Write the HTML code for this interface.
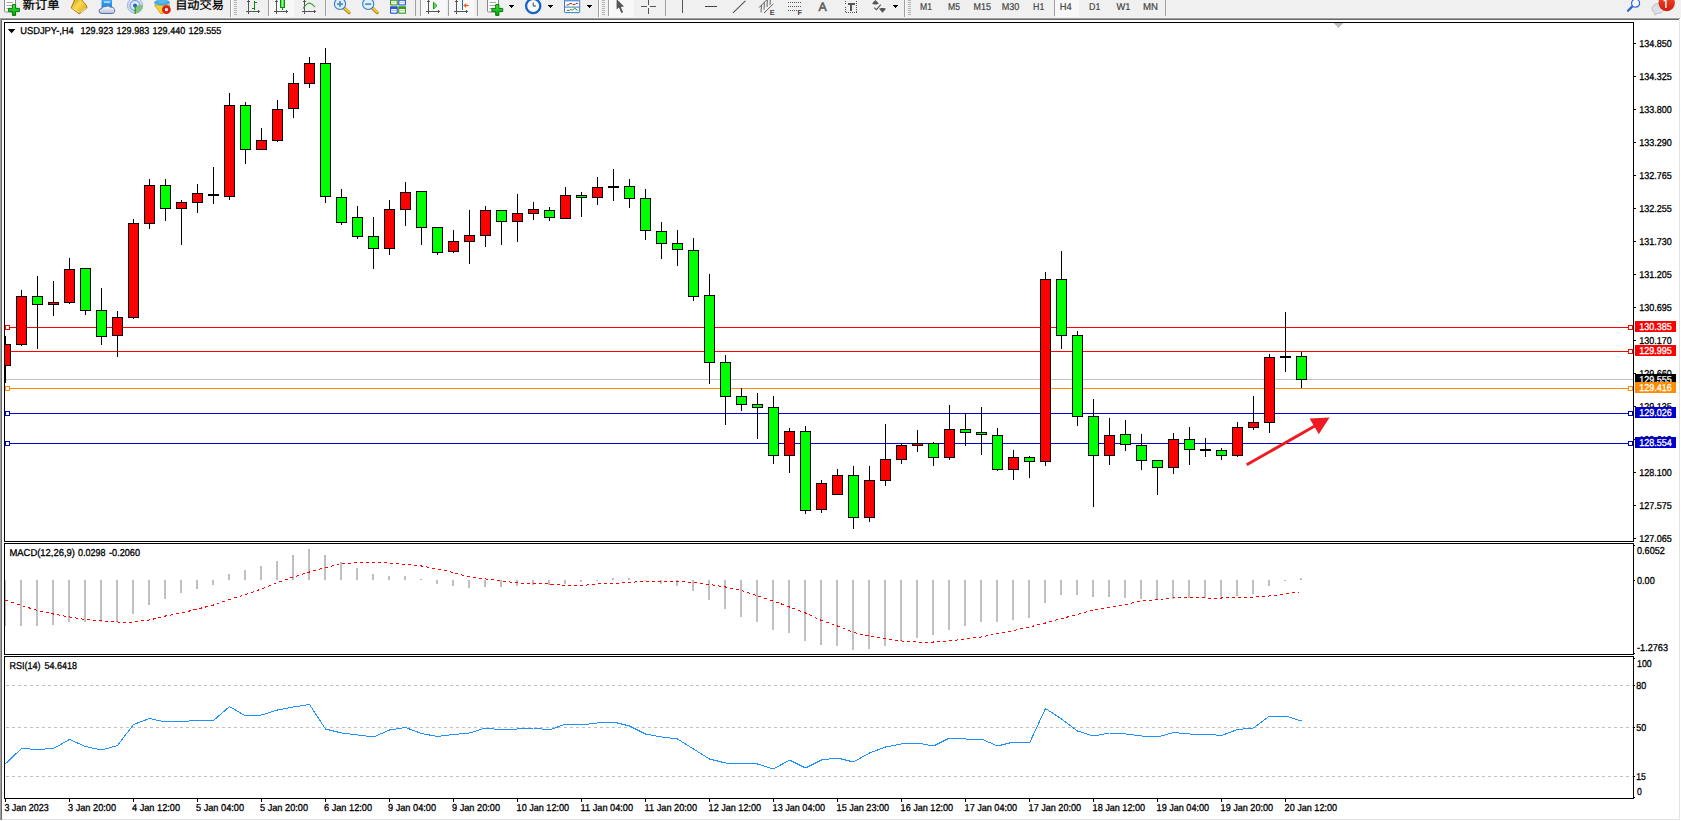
<!DOCTYPE html>
<html lang="zh-CN"><head><meta charset="utf-8"><title>USDJPY-,H4</title>
<style>
html,body{margin:0;padding:0;background:#fff;}
body{width:1681px;height:821px;overflow:hidden;position:relative;}
svg{position:absolute;left:0;top:0;display:block;font-family:"Liberation Sans","Noto Sans CJK SC",sans-serif;}
text{white-space:pre;}
text{text-rendering:geometricPrecision;}
text.c{font-size:10px;fill:#000;stroke:#000;stroke-width:0.3px;}
text.w{fill:#fff;stroke:#fff;}
</style></head>
<body>
<svg width="1681" height="821" viewBox="0 0 1681 821" shape-rendering="crispEdges">
<defs><clipPath id="cm"><rect x="5" y="23" width="1628" height="518"/></clipPath>
<clipPath id="cp"><rect x="1634" y="20" width="45" height="522"/></clipPath></defs>
<rect x="0" y="0" width="1681" height="821" fill="#fff"/>
<rect x="0" y="0" width="1681" height="17" fill="#f0f0f0"/>
<rect x="0" y="17" width="1681" height="1" fill="#f3f3f3"/>
<rect x="0" y="18" width="1680" height="1" fill="#a0a0a0"/>
<rect x="1" y="19" width="1678" height="1" fill="#696969"/>
<rect x="0" y="18" width="1" height="802" fill="#a0a0a0"/>
<rect x="1" y="19" width="1" height="801" fill="#696969"/>
<rect x="1679" y="20" width="1" height="800" fill="#e3e3e3"/>
<rect x="2" y="819" width="1678" height="1" fill="#e3e3e3"/>
<rect x="5" y="379" width="1628" height="1" fill="#c0c0c0"/>
<rect x="5" y="327" width="1628" height="1" fill="#ff0000"/>
<rect x="5" y="325" width="5" height="5" fill="#ff0000"/>
<rect x="6" y="326" width="3" height="3" fill="#fff"/>
<rect x="1628" y="325" width="5" height="5" fill="#ff0000"/>
<rect x="1629" y="326" width="3" height="3" fill="#fff"/>
<rect x="5" y="351" width="1628" height="1" fill="#ff0000"/>
<rect x="5" y="349" width="5" height="5" fill="#ff0000"/>
<rect x="6" y="350" width="3" height="3" fill="#fff"/>
<rect x="1628" y="349" width="5" height="5" fill="#ff0000"/>
<rect x="1629" y="350" width="3" height="3" fill="#fff"/>
<rect x="5" y="388" width="1628" height="1" fill="#ff8c00"/>
<rect x="5" y="386" width="5" height="5" fill="#ff8c00"/>
<rect x="6" y="387" width="3" height="3" fill="#fff"/>
<rect x="1628" y="386" width="5" height="5" fill="#ff8c00"/>
<rect x="1629" y="387" width="3" height="3" fill="#fff"/>
<rect x="5" y="413" width="1628" height="1" fill="#0000cd"/>
<rect x="5" y="411" width="5" height="5" fill="#0000cd"/>
<rect x="6" y="412" width="3" height="3" fill="#fff"/>
<rect x="1628" y="411" width="5" height="5" fill="#0000cd"/>
<rect x="1629" y="412" width="3" height="3" fill="#fff"/>
<rect x="5" y="443" width="1628" height="1" fill="#0000cd"/>
<rect x="5" y="441" width="5" height="5" fill="#0000cd"/>
<rect x="6" y="442" width="3" height="3" fill="#fff"/>
<rect x="1628" y="441" width="5" height="5" fill="#0000cd"/>
<rect x="1629" y="442" width="3" height="3" fill="#fff"/>
<g clip-path="url(#cm)">
<rect x="5" y="336" width="1" height="47" fill="#000"/>
<rect x="0" y="344" width="11" height="22" fill="#000"/>
<rect x="1" y="345" width="9" height="20" fill="#ff0000"/>
<rect x="21" y="290" width="1" height="56" fill="#000"/>
<rect x="16" y="296" width="11" height="49" fill="#000"/>
<rect x="17" y="297" width="9" height="47" fill="#ff0000"/>
<rect x="37" y="276" width="1" height="73" fill="#000"/>
<rect x="32" y="296" width="11" height="9" fill="#000"/>
<rect x="33" y="297" width="9" height="7" fill="#00ff00"/>
<rect x="53" y="281" width="1" height="35" fill="#000"/>
<rect x="48" y="302" width="11" height="3" fill="#000"/>
<rect x="49" y="303" width="9" height="1" fill="#ff0000"/>
<rect x="69" y="258" width="1" height="46" fill="#000"/>
<rect x="64" y="269" width="11" height="34" fill="#000"/>
<rect x="65" y="270" width="9" height="32" fill="#ff0000"/>
<rect x="85" y="268" width="1" height="47" fill="#000"/>
<rect x="80" y="268" width="11" height="43" fill="#000"/>
<rect x="81" y="269" width="9" height="41" fill="#00ff00"/>
<rect x="101" y="288" width="1" height="57" fill="#000"/>
<rect x="96" y="310" width="11" height="27" fill="#000"/>
<rect x="97" y="311" width="9" height="25" fill="#00ff00"/>
<rect x="117" y="311" width="1" height="46" fill="#000"/>
<rect x="112" y="317" width="11" height="19" fill="#000"/>
<rect x="113" y="318" width="9" height="17" fill="#ff0000"/>
<rect x="133" y="219" width="1" height="100" fill="#000"/>
<rect x="128" y="223" width="11" height="95" fill="#000"/>
<rect x="129" y="224" width="9" height="93" fill="#ff0000"/>
<rect x="149" y="179" width="1" height="50" fill="#000"/>
<rect x="144" y="185" width="11" height="39" fill="#000"/>
<rect x="145" y="186" width="9" height="37" fill="#ff0000"/>
<rect x="165" y="179" width="1" height="42" fill="#000"/>
<rect x="160" y="185" width="11" height="24" fill="#000"/>
<rect x="161" y="186" width="9" height="22" fill="#00ff00"/>
<rect x="181" y="200" width="1" height="45" fill="#000"/>
<rect x="176" y="202" width="11" height="7" fill="#000"/>
<rect x="177" y="203" width="9" height="5" fill="#ff0000"/>
<rect x="197" y="184" width="1" height="29" fill="#000"/>
<rect x="192" y="193" width="11" height="10" fill="#000"/>
<rect x="193" y="194" width="9" height="8" fill="#ff0000"/>
<rect x="213" y="167" width="1" height="37" fill="#000"/>
<rect x="208" y="194" width="11" height="2" fill="#000"/>
<rect x="229" y="93" width="1" height="107" fill="#000"/>
<rect x="224" y="105" width="11" height="92" fill="#000"/>
<rect x="225" y="106" width="9" height="90" fill="#ff0000"/>
<rect x="245" y="102" width="1" height="62" fill="#000"/>
<rect x="240" y="105" width="11" height="45" fill="#000"/>
<rect x="241" y="106" width="9" height="43" fill="#00ff00"/>
<rect x="261" y="128" width="1" height="22" fill="#000"/>
<rect x="256" y="140" width="11" height="10" fill="#000"/>
<rect x="257" y="141" width="9" height="8" fill="#ff0000"/>
<rect x="277" y="100" width="1" height="42" fill="#000"/>
<rect x="272" y="109" width="11" height="32" fill="#000"/>
<rect x="273" y="110" width="9" height="30" fill="#ff0000"/>
<rect x="293" y="73" width="1" height="45" fill="#000"/>
<rect x="288" y="83" width="11" height="26" fill="#000"/>
<rect x="289" y="84" width="9" height="24" fill="#ff0000"/>
<rect x="309" y="57" width="1" height="31" fill="#000"/>
<rect x="304" y="63" width="11" height="21" fill="#000"/>
<rect x="305" y="64" width="9" height="19" fill="#ff0000"/>
<rect x="325" y="48" width="1" height="155" fill="#000"/>
<rect x="320" y="63" width="11" height="134" fill="#000"/>
<rect x="321" y="64" width="9" height="132" fill="#00ff00"/>
<rect x="341" y="189" width="1" height="36" fill="#000"/>
<rect x="336" y="197" width="11" height="26" fill="#000"/>
<rect x="337" y="198" width="9" height="24" fill="#00ff00"/>
<rect x="357" y="206" width="1" height="33" fill="#000"/>
<rect x="352" y="217" width="11" height="20" fill="#000"/>
<rect x="353" y="218" width="9" height="18" fill="#00ff00"/>
<rect x="373" y="217" width="1" height="52" fill="#000"/>
<rect x="368" y="236" width="11" height="13" fill="#000"/>
<rect x="369" y="237" width="9" height="11" fill="#00ff00"/>
<rect x="389" y="200" width="1" height="55" fill="#000"/>
<rect x="384" y="209" width="11" height="40" fill="#000"/>
<rect x="385" y="210" width="9" height="38" fill="#ff0000"/>
<rect x="405" y="182" width="1" height="44" fill="#000"/>
<rect x="400" y="192" width="11" height="18" fill="#000"/>
<rect x="401" y="193" width="9" height="16" fill="#ff0000"/>
<rect x="421" y="191" width="1" height="54" fill="#000"/>
<rect x="416" y="191" width="11" height="37" fill="#000"/>
<rect x="417" y="192" width="9" height="35" fill="#00ff00"/>
<rect x="437" y="227" width="1" height="28" fill="#000"/>
<rect x="432" y="227" width="11" height="26" fill="#000"/>
<rect x="433" y="228" width="9" height="24" fill="#00ff00"/>
<rect x="453" y="230" width="1" height="23" fill="#000"/>
<rect x="448" y="241" width="11" height="11" fill="#000"/>
<rect x="449" y="242" width="9" height="9" fill="#ff0000"/>
<rect x="469" y="210" width="1" height="54" fill="#000"/>
<rect x="464" y="235" width="11" height="7" fill="#000"/>
<rect x="465" y="236" width="9" height="5" fill="#ff0000"/>
<rect x="485" y="206" width="1" height="41" fill="#000"/>
<rect x="480" y="210" width="11" height="26" fill="#000"/>
<rect x="481" y="211" width="9" height="24" fill="#ff0000"/>
<rect x="501" y="210" width="1" height="35" fill="#000"/>
<rect x="496" y="210" width="11" height="12" fill="#000"/>
<rect x="497" y="211" width="9" height="10" fill="#00ff00"/>
<rect x="517" y="194" width="1" height="48" fill="#000"/>
<rect x="512" y="213" width="11" height="9" fill="#000"/>
<rect x="513" y="214" width="9" height="7" fill="#ff0000"/>
<rect x="533" y="202" width="1" height="18" fill="#000"/>
<rect x="528" y="209" width="11" height="5" fill="#000"/>
<rect x="529" y="210" width="9" height="3" fill="#ff0000"/>
<rect x="549" y="207" width="1" height="14" fill="#000"/>
<rect x="544" y="210" width="11" height="8" fill="#000"/>
<rect x="545" y="211" width="9" height="6" fill="#00ff00"/>
<rect x="565" y="187" width="1" height="32" fill="#000"/>
<rect x="560" y="195" width="11" height="24" fill="#000"/>
<rect x="561" y="196" width="9" height="22" fill="#ff0000"/>
<rect x="581" y="192" width="1" height="25" fill="#000"/>
<rect x="576" y="195" width="11" height="3" fill="#000"/>
<rect x="577" y="196" width="9" height="1" fill="#00ff00"/>
<rect x="597" y="177" width="1" height="28" fill="#000"/>
<rect x="592" y="187" width="11" height="11" fill="#000"/>
<rect x="593" y="188" width="9" height="9" fill="#ff0000"/>
<rect x="613" y="169" width="1" height="32" fill="#000"/>
<rect x="608" y="186" width="11" height="2" fill="#000"/>
<rect x="629" y="179" width="1" height="29" fill="#000"/>
<rect x="624" y="186" width="11" height="13" fill="#000"/>
<rect x="625" y="187" width="9" height="11" fill="#00ff00"/>
<rect x="645" y="189" width="1" height="51" fill="#000"/>
<rect x="640" y="198" width="11" height="33" fill="#000"/>
<rect x="641" y="199" width="9" height="31" fill="#00ff00"/>
<rect x="661" y="222" width="1" height="37" fill="#000"/>
<rect x="656" y="231" width="11" height="13" fill="#000"/>
<rect x="657" y="232" width="9" height="11" fill="#00ff00"/>
<rect x="677" y="230" width="1" height="36" fill="#000"/>
<rect x="672" y="243" width="11" height="7" fill="#000"/>
<rect x="673" y="244" width="9" height="5" fill="#00ff00"/>
<rect x="693" y="238" width="1" height="63" fill="#000"/>
<rect x="688" y="250" width="11" height="47" fill="#000"/>
<rect x="689" y="251" width="9" height="45" fill="#00ff00"/>
<rect x="709" y="274" width="1" height="110" fill="#000"/>
<rect x="704" y="295" width="11" height="68" fill="#000"/>
<rect x="705" y="296" width="9" height="66" fill="#00ff00"/>
<rect x="725" y="355" width="1" height="70" fill="#000"/>
<rect x="720" y="362" width="11" height="35" fill="#000"/>
<rect x="721" y="363" width="9" height="33" fill="#00ff00"/>
<rect x="741" y="388" width="1" height="23" fill="#000"/>
<rect x="736" y="396" width="11" height="9" fill="#000"/>
<rect x="737" y="397" width="9" height="7" fill="#00ff00"/>
<rect x="757" y="393" width="1" height="46" fill="#000"/>
<rect x="752" y="404" width="11" height="4" fill="#000"/>
<rect x="753" y="405" width="9" height="2" fill="#00ff00"/>
<rect x="773" y="396" width="1" height="68" fill="#000"/>
<rect x="768" y="407" width="11" height="49" fill="#000"/>
<rect x="769" y="408" width="9" height="47" fill="#00ff00"/>
<rect x="789" y="428" width="1" height="45" fill="#000"/>
<rect x="784" y="431" width="11" height="25" fill="#000"/>
<rect x="785" y="432" width="9" height="23" fill="#ff0000"/>
<rect x="805" y="426" width="1" height="88" fill="#000"/>
<rect x="800" y="431" width="11" height="80" fill="#000"/>
<rect x="801" y="432" width="9" height="78" fill="#00ff00"/>
<rect x="821" y="480" width="1" height="33" fill="#000"/>
<rect x="816" y="483" width="11" height="27" fill="#000"/>
<rect x="817" y="484" width="9" height="25" fill="#ff0000"/>
<rect x="837" y="469" width="1" height="26" fill="#000"/>
<rect x="832" y="475" width="11" height="20" fill="#000"/>
<rect x="833" y="476" width="9" height="18" fill="#ff0000"/>
<rect x="853" y="466" width="1" height="63" fill="#000"/>
<rect x="848" y="475" width="11" height="43" fill="#000"/>
<rect x="849" y="476" width="9" height="41" fill="#00ff00"/>
<rect x="869" y="466" width="1" height="56" fill="#000"/>
<rect x="864" y="480" width="11" height="38" fill="#000"/>
<rect x="865" y="481" width="9" height="36" fill="#ff0000"/>
<rect x="885" y="424" width="1" height="62" fill="#000"/>
<rect x="880" y="459" width="11" height="22" fill="#000"/>
<rect x="881" y="460" width="9" height="20" fill="#ff0000"/>
<rect x="901" y="443" width="1" height="21" fill="#000"/>
<rect x="896" y="445" width="11" height="15" fill="#000"/>
<rect x="897" y="446" width="9" height="13" fill="#ff0000"/>
<rect x="917" y="430" width="1" height="22" fill="#000"/>
<rect x="912" y="443" width="11" height="3" fill="#000"/>
<rect x="913" y="444" width="9" height="1" fill="#ff0000"/>
<rect x="933" y="442" width="1" height="24" fill="#000"/>
<rect x="928" y="443" width="11" height="15" fill="#000"/>
<rect x="929" y="444" width="9" height="13" fill="#00ff00"/>
<rect x="949" y="405" width="1" height="55" fill="#000"/>
<rect x="944" y="429" width="11" height="29" fill="#000"/>
<rect x="945" y="430" width="9" height="27" fill="#ff0000"/>
<rect x="965" y="413" width="1" height="33" fill="#000"/>
<rect x="960" y="429" width="11" height="4" fill="#000"/>
<rect x="961" y="430" width="9" height="2" fill="#00ff00"/>
<rect x="981" y="407" width="1" height="48" fill="#000"/>
<rect x="976" y="432" width="11" height="3" fill="#000"/>
<rect x="977" y="433" width="9" height="1" fill="#00ff00"/>
<rect x="997" y="428" width="1" height="43" fill="#000"/>
<rect x="992" y="435" width="11" height="35" fill="#000"/>
<rect x="993" y="436" width="9" height="33" fill="#00ff00"/>
<rect x="1013" y="450" width="1" height="30" fill="#000"/>
<rect x="1008" y="457" width="11" height="13" fill="#000"/>
<rect x="1009" y="458" width="9" height="11" fill="#ff0000"/>
<rect x="1029" y="456" width="1" height="22" fill="#000"/>
<rect x="1024" y="457" width="11" height="5" fill="#000"/>
<rect x="1025" y="458" width="9" height="3" fill="#00ff00"/>
<rect x="1045" y="272" width="1" height="194" fill="#000"/>
<rect x="1040" y="279" width="11" height="183" fill="#000"/>
<rect x="1041" y="280" width="9" height="181" fill="#ff0000"/>
<rect x="1061" y="251" width="1" height="98" fill="#000"/>
<rect x="1056" y="279" width="11" height="57" fill="#000"/>
<rect x="1057" y="280" width="9" height="55" fill="#00ff00"/>
<rect x="1077" y="331" width="1" height="95" fill="#000"/>
<rect x="1072" y="335" width="11" height="82" fill="#000"/>
<rect x="1073" y="336" width="9" height="80" fill="#00ff00"/>
<rect x="1093" y="399" width="1" height="108" fill="#000"/>
<rect x="1088" y="416" width="11" height="40" fill="#000"/>
<rect x="1089" y="417" width="9" height="38" fill="#00ff00"/>
<rect x="1109" y="418" width="1" height="47" fill="#000"/>
<rect x="1104" y="435" width="11" height="21" fill="#000"/>
<rect x="1105" y="436" width="9" height="19" fill="#ff0000"/>
<rect x="1125" y="420" width="1" height="31" fill="#000"/>
<rect x="1120" y="434" width="11" height="11" fill="#000"/>
<rect x="1121" y="435" width="9" height="9" fill="#00ff00"/>
<rect x="1141" y="434" width="1" height="36" fill="#000"/>
<rect x="1136" y="445" width="11" height="16" fill="#000"/>
<rect x="1137" y="446" width="9" height="14" fill="#00ff00"/>
<rect x="1157" y="460" width="1" height="35" fill="#000"/>
<rect x="1152" y="460" width="11" height="8" fill="#000"/>
<rect x="1153" y="461" width="9" height="6" fill="#00ff00"/>
<rect x="1173" y="433" width="1" height="41" fill="#000"/>
<rect x="1168" y="439" width="11" height="29" fill="#000"/>
<rect x="1169" y="440" width="9" height="27" fill="#ff0000"/>
<rect x="1189" y="427" width="1" height="38" fill="#000"/>
<rect x="1184" y="439" width="11" height="11" fill="#000"/>
<rect x="1185" y="440" width="9" height="9" fill="#00ff00"/>
<rect x="1205" y="438" width="1" height="19" fill="#000"/>
<rect x="1200" y="449" width="11" height="2" fill="#000"/>
<rect x="1221" y="448" width="1" height="12" fill="#000"/>
<rect x="1216" y="450" width="11" height="6" fill="#000"/>
<rect x="1217" y="451" width="9" height="4" fill="#00ff00"/>
<rect x="1237" y="422" width="1" height="35" fill="#000"/>
<rect x="1232" y="427" width="11" height="29" fill="#000"/>
<rect x="1233" y="428" width="9" height="27" fill="#ff0000"/>
<rect x="1253" y="396" width="1" height="34" fill="#000"/>
<rect x="1248" y="422" width="11" height="6" fill="#000"/>
<rect x="1249" y="423" width="9" height="4" fill="#ff0000"/>
<rect x="1269" y="354" width="1" height="79" fill="#000"/>
<rect x="1264" y="357" width="11" height="66" fill="#000"/>
<rect x="1265" y="358" width="9" height="64" fill="#ff0000"/>
<rect x="1285" y="312" width="1" height="60" fill="#000"/>
<rect x="1280" y="356" width="11" height="2" fill="#000"/>
<rect x="1301" y="352" width="1" height="36" fill="#000"/>
<rect x="1296" y="356" width="11" height="24" fill="#000"/>
<rect x="1297" y="357" width="9" height="22" fill="#00ff00"/>
</g>
<rect x="4" y="22" width="1630" height="1" fill="#000"/>
<rect x="4" y="541" width="1630" height="1" fill="#000"/>
<rect x="4" y="22" width="1" height="520" fill="#000"/>
<rect x="1633" y="22" width="1" height="520" fill="#000"/>
<rect x="1633" y="543" width="1" height="112" fill="#000"/>
<rect x="1633" y="656" width="1" height="143" fill="#000"/>
<rect x="1634" y="545" width="1" height="1" fill="#000"/>
<rect x="1634" y="580" width="1" height="1" fill="#000"/>
<rect x="1634" y="653" width="1" height="1" fill="#000"/>
<rect x="1634" y="658" width="1" height="1" fill="#000"/>
<rect x="1634" y="685" width="1" height="1" fill="#000"/>
<rect x="1634" y="727" width="1" height="1" fill="#000"/>
<rect x="1634" y="776" width="1" height="1" fill="#000"/>
<rect x="1634" y="797" width="1" height="1" fill="#000"/>
<rect x="1334" y="23" width="9" height="1" fill="#c0c0c0"/>
<rect x="1335" y="24" width="7" height="1" fill="#c0c0c0"/>
<rect x="1336" y="25" width="5" height="1" fill="#c0c0c0"/>
<rect x="1337" y="26" width="3" height="1" fill="#c0c0c0"/>
<rect x="1338" y="27" width="1" height="1" fill="#c0c0c0"/>
<rect x="4" y="543" width="1630" height="1" fill="#000"/>
<rect x="4" y="654" width="1630" height="1" fill="#000"/>
<rect x="4" y="543" width="1" height="112" fill="#000"/>
<rect x="4" y="656" width="1630" height="1" fill="#000"/>
<rect x="4" y="798" width="1630" height="1" fill="#000"/>
<rect x="4" y="656" width="1" height="143" fill="#000"/>
<rect x="1634" y="43" width="2" height="1" fill="#000"/>
<rect x="1634" y="76" width="2" height="1" fill="#000"/>
<rect x="1634" y="109" width="2" height="1" fill="#000"/>
<rect x="1634" y="142" width="2" height="1" fill="#000"/>
<rect x="1634" y="175" width="2" height="1" fill="#000"/>
<rect x="1634" y="208" width="2" height="1" fill="#000"/>
<rect x="1634" y="241" width="2" height="1" fill="#000"/>
<rect x="1634" y="274" width="2" height="1" fill="#000"/>
<rect x="1634" y="307" width="2" height="1" fill="#000"/>
<rect x="1634" y="340" width="2" height="1" fill="#000"/>
<rect x="1634" y="373" width="2" height="1" fill="#000"/>
<rect x="1634" y="406" width="2" height="1" fill="#000"/>
<rect x="1634" y="439" width="2" height="1" fill="#000"/>
<rect x="1634" y="472" width="2" height="1" fill="#000"/>
<rect x="1634" y="505" width="2" height="1" fill="#000"/>
<rect x="1634" y="538" width="2" height="1" fill="#000"/>
<rect x="5" y="580" width="1" height="46" fill="#c0c0c0"/>
<rect x="20" y="580" width="2" height="46" fill="#c0c0c0"/>
<rect x="36" y="580" width="2" height="46" fill="#c0c0c0"/>
<rect x="52" y="580" width="2" height="45" fill="#c0c0c0"/>
<rect x="68" y="580" width="2" height="42" fill="#c0c0c0"/>
<rect x="84" y="580" width="2" height="42" fill="#c0c0c0"/>
<rect x="100" y="580" width="2" height="42" fill="#c0c0c0"/>
<rect x="116" y="580" width="2" height="42" fill="#c0c0c0"/>
<rect x="132" y="580" width="2" height="34" fill="#c0c0c0"/>
<rect x="148" y="580" width="2" height="25" fill="#c0c0c0"/>
<rect x="164" y="580" width="2" height="19" fill="#c0c0c0"/>
<rect x="180" y="580" width="2" height="13" fill="#c0c0c0"/>
<rect x="196" y="580" width="2" height="9" fill="#c0c0c0"/>
<rect x="212" y="580" width="2" height="5" fill="#c0c0c0"/>
<rect x="228" y="574" width="2" height="6" fill="#c0c0c0"/>
<rect x="244" y="570" width="2" height="10" fill="#c0c0c0"/>
<rect x="260" y="566" width="2" height="14" fill="#c0c0c0"/>
<rect x="276" y="561" width="2" height="19" fill="#c0c0c0"/>
<rect x="292" y="555" width="2" height="25" fill="#c0c0c0"/>
<rect x="308" y="549" width="2" height="31" fill="#c0c0c0"/>
<rect x="324" y="555" width="2" height="25" fill="#c0c0c0"/>
<rect x="340" y="562" width="2" height="18" fill="#c0c0c0"/>
<rect x="356" y="568" width="2" height="12" fill="#c0c0c0"/>
<rect x="372" y="574" width="2" height="6" fill="#c0c0c0"/>
<rect x="388" y="576" width="2" height="4" fill="#c0c0c0"/>
<rect x="404" y="576" width="2" height="4" fill="#c0c0c0"/>
<rect x="420" y="579" width="2" height="1" fill="#c0c0c0"/>
<rect x="436" y="580" width="2" height="4" fill="#c0c0c0"/>
<rect x="452" y="580" width="2" height="6" fill="#c0c0c0"/>
<rect x="468" y="580" width="2" height="8" fill="#c0c0c0"/>
<rect x="484" y="580" width="2" height="7" fill="#c0c0c0"/>
<rect x="500" y="580" width="2" height="7" fill="#c0c0c0"/>
<rect x="516" y="580" width="2" height="6" fill="#c0c0c0"/>
<rect x="532" y="580" width="2" height="5" fill="#c0c0c0"/>
<rect x="548" y="580" width="2" height="5" fill="#c0c0c0"/>
<rect x="564" y="580" width="2" height="4" fill="#c0c0c0"/>
<rect x="580" y="580" width="2" height="2" fill="#c0c0c0"/>
<rect x="596" y="580" width="2" height="1" fill="#c0c0c0"/>
<rect x="612" y="578" width="2" height="2" fill="#c0c0c0"/>
<rect x="628" y="578" width="2" height="2" fill="#c0c0c0"/>
<rect x="644" y="580" width="2" height="1" fill="#c0c0c0"/>
<rect x="660" y="580" width="2" height="4" fill="#c0c0c0"/>
<rect x="676" y="580" width="2" height="6" fill="#c0c0c0"/>
<rect x="692" y="580" width="2" height="11" fill="#c0c0c0"/>
<rect x="708" y="580" width="2" height="20" fill="#c0c0c0"/>
<rect x="724" y="580" width="2" height="29" fill="#c0c0c0"/>
<rect x="740" y="580" width="2" height="37" fill="#c0c0c0"/>
<rect x="756" y="580" width="2" height="42" fill="#c0c0c0"/>
<rect x="772" y="580" width="2" height="50" fill="#c0c0c0"/>
<rect x="788" y="580" width="2" height="53" fill="#c0c0c0"/>
<rect x="804" y="580" width="2" height="61" fill="#c0c0c0"/>
<rect x="820" y="580" width="2" height="65" fill="#c0c0c0"/>
<rect x="836" y="580" width="2" height="66" fill="#c0c0c0"/>
<rect x="852" y="580" width="2" height="70" fill="#c0c0c0"/>
<rect x="868" y="580" width="2" height="69" fill="#c0c0c0"/>
<rect x="884" y="580" width="2" height="66" fill="#c0c0c0"/>
<rect x="900" y="580" width="2" height="61" fill="#c0c0c0"/>
<rect x="916" y="580" width="2" height="58" fill="#c0c0c0"/>
<rect x="932" y="580" width="2" height="55" fill="#c0c0c0"/>
<rect x="948" y="580" width="2" height="50" fill="#c0c0c0"/>
<rect x="964" y="580" width="2" height="46" fill="#c0c0c0"/>
<rect x="980" y="580" width="2" height="42" fill="#c0c0c0"/>
<rect x="996" y="580" width="2" height="42" fill="#c0c0c0"/>
<rect x="1012" y="580" width="2" height="40" fill="#c0c0c0"/>
<rect x="1028" y="580" width="2" height="38" fill="#c0c0c0"/>
<rect x="1044" y="580" width="2" height="23" fill="#c0c0c0"/>
<rect x="1060" y="580" width="2" height="15" fill="#c0c0c0"/>
<rect x="1076" y="580" width="2" height="15" fill="#c0c0c0"/>
<rect x="1092" y="580" width="2" height="17" fill="#c0c0c0"/>
<rect x="1108" y="580" width="2" height="17" fill="#c0c0c0"/>
<rect x="1124" y="580" width="2" height="18" fill="#c0c0c0"/>
<rect x="1140" y="580" width="2" height="19" fill="#c0c0c0"/>
<rect x="1156" y="580" width="2" height="20" fill="#c0c0c0"/>
<rect x="1172" y="580" width="2" height="19" fill="#c0c0c0"/>
<rect x="1188" y="580" width="2" height="18" fill="#c0c0c0"/>
<rect x="1204" y="580" width="2" height="18" fill="#c0c0c0"/>
<rect x="1220" y="580" width="2" height="17" fill="#c0c0c0"/>
<rect x="1236" y="580" width="2" height="16" fill="#c0c0c0"/>
<rect x="1252" y="580" width="2" height="14" fill="#c0c0c0"/>
<rect x="1268" y="580" width="2" height="6" fill="#c0c0c0"/>
<rect x="1284" y="580" width="2" height="1" fill="#c0c0c0"/>
<rect x="1300" y="578" width="2" height="2" fill="#c0c0c0"/>
<line x1="6" y1="685.5" x2="1633" y2="685.5" stroke="#c0c0c0" stroke-width="1" stroke-dasharray="3 3"/>
<line x1="6" y1="727.5" x2="1633" y2="727.5" stroke="#c0c0c0" stroke-width="1" stroke-dasharray="3 3"/>
<line x1="6" y1="776.5" x2="1633" y2="776.5" stroke="#c0c0c0" stroke-width="1" stroke-dasharray="3 3"/>
<rect x="5" y="799" width="1" height="3" fill="#000"/>
<rect x="69" y="799" width="1" height="3" fill="#000"/>
<rect x="133" y="799" width="1" height="3" fill="#000"/>
<rect x="197" y="799" width="1" height="3" fill="#000"/>
<rect x="261" y="799" width="1" height="3" fill="#000"/>
<rect x="325" y="799" width="1" height="3" fill="#000"/>
<rect x="389" y="799" width="1" height="3" fill="#000"/>
<rect x="453" y="799" width="1" height="3" fill="#000"/>
<rect x="517" y="799" width="1" height="3" fill="#000"/>
<rect x="581" y="799" width="1" height="3" fill="#000"/>
<rect x="645" y="799" width="1" height="3" fill="#000"/>
<rect x="709" y="799" width="1" height="3" fill="#000"/>
<rect x="773" y="799" width="1" height="3" fill="#000"/>
<rect x="837" y="799" width="1" height="3" fill="#000"/>
<rect x="901" y="799" width="1" height="3" fill="#000"/>
<rect x="965" y="799" width="1" height="3" fill="#000"/>
<rect x="1029" y="799" width="1" height="3" fill="#000"/>
<rect x="1093" y="799" width="1" height="3" fill="#000"/>
<rect x="1157" y="799" width="1" height="3" fill="#000"/>
<rect x="1221" y="799" width="1" height="3" fill="#000"/>
<rect x="1285" y="799" width="1" height="3" fill="#000"/>
<polyline points="5.5,600 21.5,605.5 37.5,610.5 53.5,614 69.5,617 85.5,619.5 101.5,621 117.5,622 133.5,622 149.5,620 165.5,616 181.5,613 197.5,609 213.5,605 229.5,599.5 245.5,594.5 261.5,589 277.5,582.5 293.5,577 309.5,572 325.5,567.5 341.5,564 357.5,562.5 373.5,562.5 389.5,563 405.5,564.5 421.5,566 437.5,569 453.5,572.5 469.5,577 485.5,579 501.5,581 517.5,583 533.5,583.5 549.5,584 565.5,585.5 581.5,585.5 597.5,584 613.5,583.5 629.5,582.5 645.5,581 661.5,581 677.5,581 693.5,582.5 709.5,584.5 725.5,587 741.5,590.5 757.5,596 773.5,601 789.5,607 805.5,613 821.5,620.5 837.5,626 853.5,632.5 869.5,636 885.5,639 901.5,641 917.5,642 933.5,642 949.5,641 965.5,639 981.5,637 997.5,633.5 1013.5,630.5 1029.5,627 1045.5,623 1061.5,618.5 1077.5,614.5 1093.5,610 1109.5,607.5 1125.5,604.5 1141.5,601 1157.5,599.5 1173.5,598 1189.5,597.5 1205.5,598 1221.5,598 1237.5,597.5 1253.5,597 1269.5,596 1285.5,594 1299,592" fill="none" stroke="#ff0000" stroke-width="1" stroke-dasharray="3 3" stroke-linejoin="bevel"/>
<polyline points="5.5,763.75 21.5,748.5 37.5,749.5 53.5,748.5 69.5,739.5 85.5,746.5 101.5,750 117.5,745.5 133.5,724.5 149.5,718.5 165.5,722 181.5,721.5 197.5,720.5 213.5,720.5 229.5,706.5 245.5,716 261.5,715 277.5,710 293.5,707 309.5,704.5 325.5,729 341.5,733 357.5,735 373.5,737 389.5,730 405.5,727.5 421.5,733.5 437.5,736.5 453.5,734.5 469.5,733 485.5,728 501.5,730 517.5,729 533.5,728 549.5,730 565.5,724 581.5,725 597.5,723 613.5,722 629.5,726 645.5,734 661.5,737 677.5,739 693.5,749 709.5,759 725.5,763 741.5,763 757.5,764 773.5,769 789.5,760 805.5,768 821.5,760 837.5,758 853.5,762 869.5,753 885.5,747 901.5,744 917.5,743 933.5,746 949.5,738 965.5,739 981.5,739 997.5,746 1013.5,742 1029.5,743 1045.5,708.5 1061.5,719 1077.5,731 1093.5,736 1109.5,733 1125.5,734 1141.5,736 1157.5,737 1173.5,732.5 1189.5,734 1205.5,734 1221.5,735.5 1237.5,729.5 1253.5,728 1269.5,716 1285.5,716 1301.5,721" fill="none" stroke="#1e90ff" stroke-width="1" stroke-linejoin="bevel"/>
<g shape-rendering="geometricPrecision"><line x1="1246.7" y1="464.8" x2="1317" y2="424.7" stroke="#ed1c24" stroke-width="2.9"/><polygon points="1329.6,417.6 1309.6,418.6 1318.8,434.2" fill="#ed1c24"/></g>
<polygon points="7.8,29 15.4,29 11.6,33.2" fill="#000" shape-rendering="geometricPrecision"/>
<g clip-path="url(#cp)">
<text class="c p" x="1639.3" y="47" textLength="32.6" lengthAdjust="spacingAndGlyphs">134.850</text>
<text class="c p" x="1639.3" y="80" textLength="32.6" lengthAdjust="spacingAndGlyphs">134.325</text>
<text class="c p" x="1639.3" y="113" textLength="32.6" lengthAdjust="spacingAndGlyphs">133.800</text>
<text class="c p" x="1639.3" y="146" textLength="32.6" lengthAdjust="spacingAndGlyphs">133.290</text>
<text class="c p" x="1639.3" y="179" textLength="32.6" lengthAdjust="spacingAndGlyphs">132.765</text>
<text class="c p" x="1639.3" y="212" textLength="32.6" lengthAdjust="spacingAndGlyphs">132.255</text>
<text class="c p" x="1639.3" y="245" textLength="32.6" lengthAdjust="spacingAndGlyphs">131.730</text>
<text class="c p" x="1639.3" y="278" textLength="32.6" lengthAdjust="spacingAndGlyphs">131.205</text>
<text class="c p" x="1639.3" y="311" textLength="32.6" lengthAdjust="spacingAndGlyphs">130.695</text>
<text class="c p" x="1639.3" y="344" textLength="32.6" lengthAdjust="spacingAndGlyphs">130.170</text>
<text class="c p" x="1639.3" y="377" textLength="32.6" lengthAdjust="spacingAndGlyphs">129.660</text>
<text class="c p" x="1639.3" y="410" textLength="32.6" lengthAdjust="spacingAndGlyphs">129.135</text>
<text class="c p" x="1639.3" y="443" textLength="32.6" lengthAdjust="spacingAndGlyphs">128.610</text>
<text class="c p" x="1639.3" y="476" textLength="32.6" lengthAdjust="spacingAndGlyphs">128.100</text>
<text class="c p" x="1639.3" y="509" textLength="32.6" lengthAdjust="spacingAndGlyphs">127.575</text>
<text class="c p" x="1639.3" y="542" textLength="32.6" lengthAdjust="spacingAndGlyphs">127.065</text>
<rect x="1635" y="374" width="41" height="11" fill="#000"/>
<text class="c w" x="1639.3" y="383" textLength="32.6" lengthAdjust="spacingAndGlyphs">129.555</text>
<rect x="1635" y="321" width="41" height="11" fill="#ff0000"/>
<text class="c w" x="1639.3" y="330" textLength="32.6" lengthAdjust="spacingAndGlyphs">130.385</text>
<rect x="1635" y="345" width="41" height="11" fill="#ff0000"/>
<text class="c w" x="1639.3" y="354" textLength="32.6" lengthAdjust="spacingAndGlyphs">129.995</text>
<rect x="1635" y="382" width="41" height="11" fill="#ff8c00"/>
<text class="c w" x="1639.3" y="391" textLength="32.6" lengthAdjust="spacingAndGlyphs">129.416</text>
<rect x="1635" y="407" width="41" height="11" fill="#0000cd"/>
<text class="c w" x="1639.3" y="416" textLength="32.6" lengthAdjust="spacingAndGlyphs">129.026</text>
<rect x="1635" y="437" width="41" height="11" fill="#0000cd"/>
<text class="c w" x="1639.3" y="446" textLength="32.6" lengthAdjust="spacingAndGlyphs">128.554</text>
</g>
<text class="c" x="9.4" y="556" textLength="65.6" lengthAdjust="spacingAndGlyphs">MACD(12,26,9)</text>
<text class="c" x="78.1" y="556" textLength="27.5" lengthAdjust="spacingAndGlyphs">0.0298</text>
<text class="c" x="109" y="556" textLength="31" lengthAdjust="spacingAndGlyphs">-0.2060</text>
<text class="c" x="1637" y="554" textLength="27.8" lengthAdjust="spacingAndGlyphs">0.6052</text>
<text class="c" x="1637" y="584" textLength="17.7" lengthAdjust="spacingAndGlyphs">0.00</text>
<text class="c" x="1637" y="651" textLength="31" lengthAdjust="spacingAndGlyphs">-1.2763</text>
<text class="c" x="9.4" y="669" textLength="31.2" lengthAdjust="spacingAndGlyphs">RSI(14)</text>
<text class="c" x="44.4" y="669" textLength="32.5" lengthAdjust="spacingAndGlyphs">54.6418</text>
<text class="c" x="1637" y="667" textLength="14.7" lengthAdjust="spacingAndGlyphs">100</text>
<text class="c" x="1636.2" y="689" textLength="10" lengthAdjust="spacingAndGlyphs">80</text>
<text class="c" x="1636.2" y="731" textLength="10" lengthAdjust="spacingAndGlyphs">50</text>
<text class="c" x="1636.2" y="780" textLength="9.6" lengthAdjust="spacingAndGlyphs">15</text>
<text class="c" x="1637" y="795" textLength="4.8" lengthAdjust="spacingAndGlyphs">0</text>
<text class="c" x="4.4" y="811" textLength="44.4" lengthAdjust="spacingAndGlyphs">3 Jan 2023</text>
<text class="c" x="68" y="811" textLength="48" lengthAdjust="spacingAndGlyphs">3 Jan 20:00</text>
<text class="c" x="132" y="811" textLength="48" lengthAdjust="spacingAndGlyphs">4 Jan 12:00</text>
<text class="c" x="196" y="811" textLength="48" lengthAdjust="spacingAndGlyphs">5 Jan 04:00</text>
<text class="c" x="260" y="811" textLength="48" lengthAdjust="spacingAndGlyphs">5 Jan 20:00</text>
<text class="c" x="324" y="811" textLength="48" lengthAdjust="spacingAndGlyphs">6 Jan 12:00</text>
<text class="c" x="388" y="811" textLength="48" lengthAdjust="spacingAndGlyphs">9 Jan 04:00</text>
<text class="c" x="452" y="811" textLength="48" lengthAdjust="spacingAndGlyphs">9 Jan 20:00</text>
<text class="c" x="516.6" y="811" textLength="52.5" lengthAdjust="spacingAndGlyphs">10 Jan 12:00</text>
<text class="c" x="580.6" y="811" textLength="52.5" lengthAdjust="spacingAndGlyphs">11 Jan 04:00</text>
<text class="c" x="644.6" y="811" textLength="52.5" lengthAdjust="spacingAndGlyphs">11 Jan 20:00</text>
<text class="c" x="708.6" y="811" textLength="52.5" lengthAdjust="spacingAndGlyphs">12 Jan 12:00</text>
<text class="c" x="772.6" y="811" textLength="52.5" lengthAdjust="spacingAndGlyphs">13 Jan 04:00</text>
<text class="c" x="836.6" y="811" textLength="52.5" lengthAdjust="spacingAndGlyphs">15 Jan 23:00</text>
<text class="c" x="900.6" y="811" textLength="52.5" lengthAdjust="spacingAndGlyphs">16 Jan 12:00</text>
<text class="c" x="964.6" y="811" textLength="52.5" lengthAdjust="spacingAndGlyphs">17 Jan 04:00</text>
<text class="c" x="1028.6" y="811" textLength="52.5" lengthAdjust="spacingAndGlyphs">17 Jan 20:00</text>
<text class="c" x="1092.6" y="811" textLength="52.5" lengthAdjust="spacingAndGlyphs">18 Jan 12:00</text>
<text class="c" x="1156.6" y="811" textLength="52.5" lengthAdjust="spacingAndGlyphs">19 Jan 04:00</text>
<text class="c" x="1220.6" y="811" textLength="52.5" lengthAdjust="spacingAndGlyphs">19 Jan 20:00</text>
<text class="c" x="1284.6" y="811" textLength="52.5" lengthAdjust="spacingAndGlyphs">20 Jan 12:00</text>
<text class="c" x="20.2" y="34" textLength="53.6" lengthAdjust="spacingAndGlyphs">USDJPY-,H4</text>
<text class="c" x="80.6" y="34" textLength="32.6" lengthAdjust="spacingAndGlyphs">129.923</text>
<text class="c" x="116.6" y="34" textLength="32.6" lengthAdjust="spacingAndGlyphs">129.983</text>
<text class="c" x="152.6" y="34" textLength="32.6" lengthAdjust="spacingAndGlyphs">129.440</text>
<text class="c" x="188.6" y="34" textLength="32.6" lengthAdjust="spacingAndGlyphs">129.555</text>
<defs>
<linearGradient id="gPlus" x1="0" y1="0" x2="0" y2="1"><stop offset="0" stop-color="#3cf03c"/><stop offset="1" stop-color="#0a9a0a"/></linearGradient>
<linearGradient id="gGold" x1="0" y1="0" x2="1" y2="1"><stop offset="0" stop-color="#d09010"/><stop offset="0.45" stop-color="#f8dc50"/><stop offset="1" stop-color="#d8980c"/></linearGradient>
<linearGradient id="gBlue" x1="0" y1="0" x2="0" y2="1"><stop offset="0" stop-color="#58b8f8"/><stop offset="1" stop-color="#1880e0"/></linearGradient>
<linearGradient id="gRed" x1="0" y1="0" x2="0" y2="1"><stop offset="0" stop-color="#f05030"/><stop offset="1" stop-color="#d01808"/></linearGradient>
<linearGradient id="gCandle" x1="0" y1="0" x2="1" y2="0"><stop offset="0" stop-color="#20c020"/><stop offset="0.5" stop-color="#90ff90"/><stop offset="1" stop-color="#20c020"/></linearGradient>
<radialGradient id="gSig" cx="0.5" cy="0.4" r="0.6"><stop offset="0" stop-color="#e8f0ff"/><stop offset="1" stop-color="#c8d8f0"/></radialGradient>
<clipPath id="tb"><rect x="0" y="0" width="1681" height="17"/></clipPath>
<linearGradient id="gCloud" x1="0" y1="0" x2="0" y2="1"><stop offset="0" stop-color="#ffffff"/><stop offset="1" stop-color="#b4c0d8"/></linearGradient>
</defs>
<g clip-path="url(#tb)" shape-rendering="geometricPrecision">
<rect x="269" y="0" width="25" height="17" fill="#f8f8f8" shape-rendering="crispEdges"/>
<rect x="268" y="0" width="1" height="16" fill="#a0a0a0" shape-rendering="crispEdges"/>
<rect x="421" y="0" width="25" height="17" fill="#f8f8f8" shape-rendering="crispEdges"/>
<rect x="420" y="0" width="1" height="16" fill="#a0a0a0" shape-rendering="crispEdges"/>
<rect x="449" y="0" width="25" height="17" fill="#f8f8f8" shape-rendering="crispEdges"/>
<rect x="448" y="0" width="1" height="16" fill="#a0a0a0" shape-rendering="crispEdges"/>
<rect x="609" y="0" width="25" height="17" fill="#f8f8f8" shape-rendering="crispEdges"/>
<rect x="608" y="0" width="1" height="16" fill="#a0a0a0" shape-rendering="crispEdges"/>
<rect x="1055" y="0" width="24" height="17" fill="#f8f8f8" shape-rendering="crispEdges"/>
<rect x="1054" y="0" width="1" height="16" fill="#a0a0a0" shape-rendering="crispEdges"/>
<path d="M4.5,-4 h8 l3,3 v12 q0,1 -1,1 h-9 q-1,0 -1,-1 z" fill="#fdfdfd" stroke="#8a8a8a" stroke-width="1"/>
<line x1="6.5" y1="2.5" x2="13.0" y2="2.5" stroke="#a8a8a8" stroke-width="1"/>
<line x1="6.5" y1="5.5" x2="13.0" y2="5.5" stroke="#a8a8a8" stroke-width="1"/>
<line x1="6.5" y1="8.5" x2="13.0" y2="8.5" stroke="#a8a8a8" stroke-width="1"/>
<path d="M12.4,4.6 h3.2 v3.8 h3.8 v3.2 h-3.8 v3.8 h-3.2 v-3.8 h-3.8 v-3.2 h3.8 z" fill="url(#gPlus)" stroke="#067806" stroke-width="1" stroke-linejoin="round"/>
<text x="22.8" y="9" font-size="12.2" fill="#000" stroke="#000" stroke-width="0.3">新订单</text>
<path d="M75.4,-2 L80,-2 L86.4,5.4 L87,8 L79.2,13.9 L71.2,7.9 Z" fill="url(#gGold)" stroke="#a86808" stroke-width="0.9" stroke-linejoin="round"/>
<path d="M72.6,8.3 L79.2,12.6" fill="none" stroke="#fbe9a0" stroke-width="0.9" opacity="0.9"/>
<path d="M80.6,12.2 L86.2,8" fill="none" stroke="#e8d8a0" stroke-width="1.1"/>
<rect x="101.5" y="-3" width="10.5" height="11" fill="url(#gBlue)"/>
<rect x="104" y="1.5" width="6" height="1.2" fill="#e8f6ff"/>
<path d="M102,13.5 q-3,0 -3,-2.5 q0,-2.5 3,-2.5 q1,-2.5 4,-2 q2,-1.5 4,0.5 q4,-0.5 4.5,2.5 q1,3.5 -2.5,4 z" fill="url(#gCloud)" stroke="#4a66a4" stroke-width="0.9"/>
<circle cx="135" cy="5.5" r="7.6" fill="url(#gSig)" stroke="#9ab4e0" stroke-width="1"/>
<circle cx="135" cy="5.5" r="5" fill="none" stroke="#6a90d8" stroke-width="1"/>
<path d="M135,5.5 L143,5 A8,8 0 0 1 135.5,13.5 Z" fill="#7cc070" opacity="0.85"/>
<circle cx="135" cy="5.5" r="2" fill="#2a62d0"/>
<rect x="134.6" y="6" width="1.2" height="8" fill="#18a018"/>
<path d="M154.5,5 L170,5 L163,13.5 L160.5,13.5 Z" fill="#f4d038" stroke="#c89c10" stroke-width="0.8"/>
<ellipse cx="162" cy="2.5" rx="8" ry="3" fill="#48a8e0"/>
<ellipse cx="162" cy="0" rx="5" ry="3.5" fill="#58b8f0"/>
<circle cx="166.4" cy="9.7" r="4.4" fill="#e02010"/>
<rect x="165" y="8.3" width="2.8" height="2.8" fill="#fff"/>
<text x="175.2" y="9" font-size="12.2" fill="#000" stroke="#000" stroke-width="0.3">自动交易</text>
<rect x="230" y="0" width="1" height="18" fill="#a0a0a0" shape-rendering="crispEdges"/>
<rect x="231" y="0" width="1" height="17" fill="#fff" shape-rendering="crispEdges"/>
<rect x="234" y="0" width="3" height="1" fill="#b4b4b4" shape-rendering="crispEdges"/>
<rect x="234" y="2" width="3" height="1" fill="#b4b4b4" shape-rendering="crispEdges"/>
<rect x="234" y="4" width="3" height="1" fill="#b4b4b4" shape-rendering="crispEdges"/>
<rect x="234" y="6" width="3" height="1" fill="#b4b4b4" shape-rendering="crispEdges"/>
<rect x="234" y="8" width="3" height="1" fill="#b4b4b4" shape-rendering="crispEdges"/>
<rect x="234" y="10" width="3" height="1" fill="#b4b4b4" shape-rendering="crispEdges"/>
<rect x="234" y="12" width="3" height="1" fill="#b4b4b4" shape-rendering="crispEdges"/>
<rect x="234" y="14" width="3" height="1" fill="#b4b4b4" shape-rendering="crispEdges"/>
<g fill="#555" shape-rendering="crispEdges"><rect x="248" y="0" width="1" height="14"/><rect x="246" y="11" width="14" height="1"/><rect x="247" y="1" width="3" height="1"/><rect x="258" y="10" width="1" height="3"/></g>
<g fill="#0a8a0a" shape-rendering="crispEdges"><rect x="254" y="1" width="1" height="9"/><rect x="255" y="2" width="2" height="1"/><rect x="252" y="8" width="2" height="1"/></g>
<g fill="#555" shape-rendering="crispEdges"><rect x="276" y="0" width="1" height="14"/><rect x="274" y="11" width="14" height="1"/><rect x="275" y="1" width="3" height="1"/><rect x="286" y="10" width="1" height="3"/></g>
<rect x="280.5" y="-2" width="4" height="9.5" fill="url(#gCandle)" stroke="#0a8a0a" stroke-width="1"/><rect x="282" y="8" width="1" height="2" fill="#0a8a0a"/>
<g fill="#555" shape-rendering="crispEdges"><rect x="304" y="0" width="1" height="14"/><rect x="302" y="11" width="14" height="1"/><rect x="303" y="1" width="3" height="1"/><rect x="314" y="10" width="1" height="3"/></g>
<path d="M303,8.5 Q307,3 309.5,3 Q312,3.5 315,7" fill="none" stroke="#2a9a2a" stroke-width="1.1"/>
<rect x="325" y="0" width="1" height="16" fill="#a0a0a0" shape-rendering="crispEdges"/>
<line x1="344" y1="8" x2="349" y2="12.6" stroke="#b88810" stroke-width="3.2" stroke-linecap="round"/>
<line x1="344.2" y1="7.8" x2="349" y2="12.2" stroke="#f0d040" stroke-width="1.6" stroke-linecap="round"/>
<circle cx="340" cy="3.9" r="5.6" fill="#dcefff" stroke="#3a78c8" stroke-width="1.1"/>
<rect x="337" y="3.3" width="6" height="1.6" fill="#4a88b8"/>
<rect x="339.2" y="1" width="1.6" height="6" fill="#4a88b8"/>
<line x1="372.2" y1="8" x2="377.2" y2="12.6" stroke="#b88810" stroke-width="3.2" stroke-linecap="round"/>
<line x1="372.4" y1="7.8" x2="377.2" y2="12.2" stroke="#f0d040" stroke-width="1.6" stroke-linecap="round"/>
<circle cx="368.2" cy="3.9" r="5.6" fill="#dcefff" stroke="#3a78c8" stroke-width="1.1"/>
<rect x="365.2" y="3.3" width="6" height="1.6" fill="#4a88b8"/>
<rect x="390" y="-2" width="7.8" height="7.6" rx="0.8" fill="#3a9c1c"/>
<rect x="391.2" y="0.7999999999999998" width="5.4" height="3.6" fill="#fff"/>
<rect x="392" y="1.7999999999999998" width="3.8" height="0.9" fill="#3a9c1c" opacity="0.45"/>
<rect x="398.2" y="-2" width="7.8" height="7.6" rx="0.8" fill="#2858d0"/>
<rect x="399.4" y="0.7999999999999998" width="5.4" height="3.6" fill="#fff"/>
<rect x="400.2" y="1.7999999999999998" width="3.8" height="0.9" fill="#2858d0" opacity="0.45"/>
<rect x="390" y="6.2" width="7.8" height="7.6" rx="0.8" fill="#2858d0"/>
<rect x="391.2" y="9.0" width="5.4" height="3.6" fill="#fff"/>
<rect x="392" y="10.0" width="3.8" height="0.9" fill="#2858d0" opacity="0.45"/>
<rect x="398.2" y="6.2" width="7.8" height="7.6" rx="0.8" fill="#3a9c1c"/>
<rect x="399.4" y="9.0" width="5.4" height="3.6" fill="#fff"/>
<rect x="400.2" y="10.0" width="3.8" height="0.9" fill="#3a9c1c" opacity="0.45"/>
<rect x="415" y="0" width="1" height="16" fill="#a0a0a0" shape-rendering="crispEdges"/>
<g fill="#555" shape-rendering="crispEdges"><rect x="428" y="0" width="1" height="14"/><rect x="426" y="11" width="14" height="1"/><rect x="427" y="1" width="3" height="1"/><rect x="438" y="10" width="1" height="3"/></g>
<path d="M433.5,2.2 L437,5.6 L433.5,9 Z" fill="#58e058" stroke="#0a9a0a" stroke-width="0.9" stroke-linejoin="round"/>
<g fill="#555" shape-rendering="crispEdges"><rect x="456" y="0" width="1" height="14"/><rect x="454" y="11" width="14" height="1"/><rect x="455" y="1" width="3" height="1"/><rect x="466" y="10" width="1" height="3"/></g>
<rect x="462" y="0" width="1" height="10" fill="#1a6a9a" shape-rendering="crispEdges"/>
<path d="M463.6,5.5 L466,3.4 L465.6,5 L468.2,5 L468.2,6 L465.6,6 L466,7.6 Z" fill="#e85808" stroke="#e85808" stroke-width="0.4"/>
<rect x="477" y="0" width="1" height="16" fill="#a0a0a0" shape-rendering="crispEdges"/>
<path d="M487.5,-4 h8 l3,3 v12 q0,1 -1,1 h-9 q-1,0 -1,-1 z" fill="#fdfdfd" stroke="#8a8a8a" stroke-width="1"/>
<line x1="489.5" y1="2.5" x2="496.0" y2="2.5" stroke="#a8a8a8" stroke-width="1"/>
<line x1="489.5" y1="5.5" x2="496.0" y2="5.5" stroke="#a8a8a8" stroke-width="1"/>
<line x1="489.5" y1="8.5" x2="496.0" y2="8.5" stroke="#a8a8a8" stroke-width="1"/>
<path d="M495.7,4.6 h3.2 v3.8 h3.8 v3.2 h-3.8 v3.8 h-3.2 v-3.8 h-3.8 v-3.2 h3.8 z" fill="url(#gPlus)" stroke="#067806" stroke-width="1" stroke-linejoin="round"/>
<g fill="#000" shape-rendering="crispEdges"><rect x="509" y="5" width="5" height="1"/><rect x="510" y="6" width="3" height="1"/><rect x="511" y="7" width="1" height="1"/></g>
<circle cx="533.2" cy="6" r="7" fill="#fbfbfb" stroke="#1464d0" stroke-width="2"/>
<circle cx="533.2" cy="6" r="7.9" fill="none" stroke="#0a48a8" stroke-width="0.5"/>
<path d="M533.2,2.5 V6 H536" fill="none" stroke="#444" stroke-width="1"/>
<g fill="#000" shape-rendering="crispEdges"><rect x="548" y="5" width="5" height="1"/><rect x="549" y="6" width="3" height="1"/><rect x="550" y="7" width="1" height="1"/></g>
<rect x="564.5" y="-2" width="15.2" height="14.6" rx="0.8" fill="#fff" stroke="#3a78c8" stroke-width="1"/>
<rect x="564.5" y="-2" width="15.2" height="3.4" fill="#5a98e0"/>
<rect x="565" y="6.6" width="14.4" height="1" fill="#3a78c8"/>
<path d="M566.5,5 L568.5,5 L569.5,3.6 L572,3.6 L573,4.6 L575,4.6 L576,3.4 L578,3.4" fill="none" stroke="#b02810" stroke-width="1"/>
<path d="M567,10.4 L569.5,10.4 L570.5,9.4 L572.5,10.2 L574.5,8.4 L576,9 L577.5,10.6" fill="none" stroke="#1a9a1a" stroke-width="1"/>
<g fill="#000" shape-rendering="crispEdges"><rect x="587" y="5" width="5" height="1"/><rect x="588" y="6" width="3" height="1"/><rect x="589" y="7" width="1" height="1"/></g>
<rect x="598" y="0" width="1" height="18" fill="#a0a0a0" shape-rendering="crispEdges"/>
<rect x="599" y="0" width="1" height="17" fill="#fff" shape-rendering="crispEdges"/>
<rect x="602" y="0" width="3" height="1" fill="#b4b4b4" shape-rendering="crispEdges"/>
<rect x="602" y="2" width="3" height="1" fill="#b4b4b4" shape-rendering="crispEdges"/>
<rect x="602" y="4" width="3" height="1" fill="#b4b4b4" shape-rendering="crispEdges"/>
<rect x="602" y="6" width="3" height="1" fill="#b4b4b4" shape-rendering="crispEdges"/>
<rect x="602" y="8" width="3" height="1" fill="#b4b4b4" shape-rendering="crispEdges"/>
<rect x="602" y="10" width="3" height="1" fill="#b4b4b4" shape-rendering="crispEdges"/>
<rect x="602" y="12" width="3" height="1" fill="#b4b4b4" shape-rendering="crispEdges"/>
<rect x="602" y="14" width="3" height="1" fill="#b4b4b4" shape-rendering="crispEdges"/>
<path d="M616.6,-1 L616.6,9.6 L619,7.6 L621.4,13 L623.2,12.2 L620.8,7 L624,6.6 Z" fill="#555"/>
<g fill="#555" shape-rendering="crispEdges"><rect x="648" y="0" width="1" height="5"/><rect x="648" y="8" width="1" height="6"/><rect x="641" y="6" width="6" height="1"/><rect x="650" y="6" width="6" height="1"/></g>
<rect x="665" y="0" width="1" height="16" fill="#a0a0a0" shape-rendering="crispEdges"/>
<rect x="682" y="0" width="1" height="13" fill="#555" shape-rendering="crispEdges"/>
<rect x="705" y="6" width="12" height="1" fill="#444" shape-rendering="crispEdges"/>
<line x1="733" y1="12.8" x2="745.4" y2="0.8" stroke="#555" stroke-width="1.1"/>
<g stroke="#555" stroke-width="0.9" fill="none"><line x1="759" y1="7.6" x2="767" y2="-0.4"/><line x1="764" y1="13" x2="773.4" y2="3.8"/><line x1="761.5" y1="5" x2="761" y2="12.4"/><line x1="764.4" y1="2.4" x2="764" y2="9.6"/><line x1="767.4" y1="0" x2="767" y2="7"/><line x1="770.4" y1="-1" x2="770" y2="5"/></g>
<text x="769.8" y="15" font-size="7.4" font-weight="bold" fill="#444">E</text>
<line x1="788" y1="2.5" x2="802" y2="2.5" stroke="#555" stroke-width="1" stroke-dasharray="1 1" shape-rendering="crispEdges"/>
<line x1="788" y1="6.5" x2="802" y2="6.5" stroke="#555" stroke-width="1" stroke-dasharray="1 1" shape-rendering="crispEdges"/>
<line x1="788" y1="10.5" x2="797" y2="10.5" stroke="#555" stroke-width="1" stroke-dasharray="1 1" shape-rendering="crispEdges"/>
<text x="797.6" y="15" font-size="7.4" font-weight="bold" fill="#444">F</text>
<text x="818.4" y="11" font-size="12.4" fill="#555" stroke="#555" stroke-width="0.5" textLength="8.2" lengthAdjust="spacingAndGlyphs">A</text>
<rect x="845.5" y="-0.5" width="11" height="13" fill="none" stroke="#555" stroke-width="1" stroke-dasharray="1 1" shape-rendering="crispEdges"/>
<g fill="#555" shape-rendering="crispEdges"><rect x="848" y="3" width="7" height="2"/><rect x="850" y="3" width="2" height="8"/></g>
<path d="M872,3.6 L875.4,0 L878.8,3.6 L876.6,4.6 L874.2,4.6 Z" fill="#555"/>
<path d="M874.2,7.6 L876.4,9.6 L880.8,4.6" fill="none" stroke="#555" stroke-width="1.1"/>
<path d="M879,8.8 L881.2,8 L883.8,8 L886,8.8 L882.5,12.8 Z" fill="#555"/>
<g fill="#000" shape-rendering="crispEdges"><rect x="893" y="5" width="5" height="1"/><rect x="894" y="6" width="3" height="1"/><rect x="895" y="7" width="1" height="1"/></g>
<rect x="904" y="0" width="1" height="18" fill="#a0a0a0" shape-rendering="crispEdges"/>
<rect x="905" y="0" width="1" height="17" fill="#fff" shape-rendering="crispEdges"/>
<rect x="908" y="0" width="3" height="1" fill="#b4b4b4" shape-rendering="crispEdges"/>
<rect x="908" y="2" width="3" height="1" fill="#b4b4b4" shape-rendering="crispEdges"/>
<rect x="908" y="4" width="3" height="1" fill="#b4b4b4" shape-rendering="crispEdges"/>
<rect x="908" y="6" width="3" height="1" fill="#b4b4b4" shape-rendering="crispEdges"/>
<rect x="908" y="8" width="3" height="1" fill="#b4b4b4" shape-rendering="crispEdges"/>
<rect x="908" y="10" width="3" height="1" fill="#b4b4b4" shape-rendering="crispEdges"/>
<rect x="908" y="12" width="3" height="1" fill="#b4b4b4" shape-rendering="crispEdges"/>
<rect x="908" y="14" width="3" height="1" fill="#b4b4b4" shape-rendering="crispEdges"/>
<text x="920" y="10" font-size="10" fill="#444" stroke="#444" stroke-width="0.2" textLength="12" lengthAdjust="spacingAndGlyphs">M1</text>
<text x="948" y="10" font-size="10" fill="#444" stroke="#444" stroke-width="0.2" textLength="12" lengthAdjust="spacingAndGlyphs">M5</text>
<text x="973.6" y="10" font-size="10" fill="#444" stroke="#444" stroke-width="0.2" textLength="17.4" lengthAdjust="spacingAndGlyphs">M15</text>
<text x="1001.7" y="10" font-size="10" fill="#444" stroke="#444" stroke-width="0.2" textLength="17.6" lengthAdjust="spacingAndGlyphs">M30</text>
<text x="1033" y="10" font-size="10" fill="#444" stroke="#444" stroke-width="0.2" textLength="11.3" lengthAdjust="spacingAndGlyphs">H1</text>
<text x="1059.8" y="10" font-size="10" fill="#444" stroke="#444" stroke-width="0.2" textLength="11.9" lengthAdjust="spacingAndGlyphs">H4</text>
<text x="1089" y="10" font-size="10" fill="#444" stroke="#444" stroke-width="0.2" textLength="11.3" lengthAdjust="spacingAndGlyphs">D1</text>
<text x="1116.4" y="10" font-size="10" fill="#444" stroke="#444" stroke-width="0.2" textLength="13.9" lengthAdjust="spacingAndGlyphs">W1</text>
<text x="1143" y="10" font-size="10" fill="#444" stroke="#444" stroke-width="0.2" textLength="15" lengthAdjust="spacingAndGlyphs">MN</text>
<rect x="1165" y="0" width="1" height="16" fill="#a0a0a0" shape-rendering="crispEdges"/>
<line x1="1632.4" y1="6.4" x2="1628" y2="10.8" stroke="#2a62d8" stroke-width="2.2" stroke-linecap="round"/>
<circle cx="1635.6" cy="3.2" r="4" fill="#fff" stroke="#2a62e0" stroke-width="1.2"/>
<path d="M1652,8.5 a6,5 0 1 1 5,5 l-2.2,1.6 l0.2,-2 a6,5 0 0 1 -3,-4.6 z" fill="#dcdfe8" stroke="#b8b8b8" stroke-width="0.8"/>
<circle cx="1666.7" cy="3" r="8.2" fill="url(#gRed)"/>
<path d="M1663.4,0.6 L1665.4,-1 L1666.6,-1 L1666.6,8 L1665.2,8 L1665.2,1 L1663.8,1.6 Z" fill="#fff"/>
</g>
</svg>
</body></html>
